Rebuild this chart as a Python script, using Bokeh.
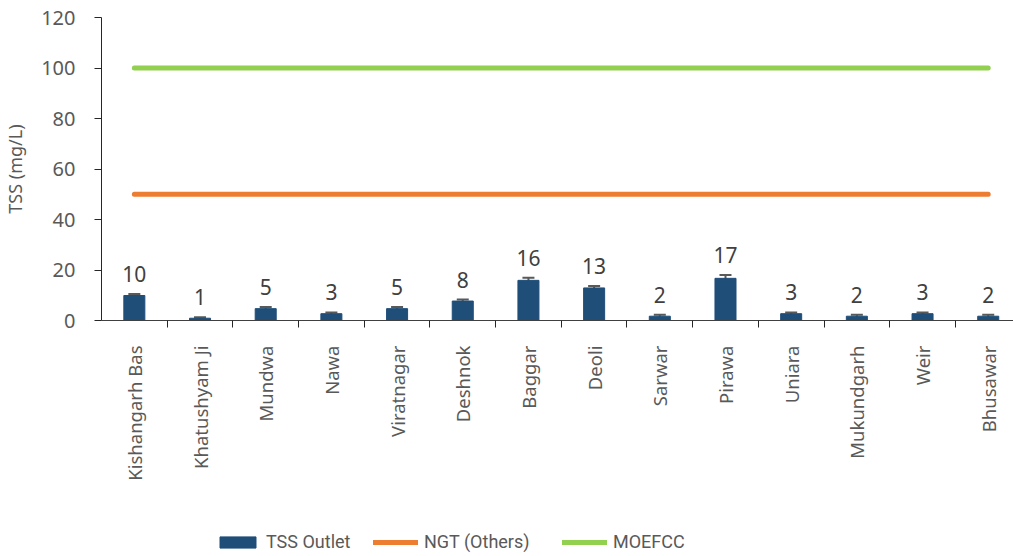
import numpy as np
from bokeh.plotting import figure
from bokeh.layouts import column
from bokeh.models import (Range1d, FixedTicker, Legend, LegendItem, ColumnDataSource,
                          Whisker, LabelSet)
from bokeh.embed import file_html
from bokeh.resources import INLINE
from bokeh.core.properties import value

# ---- data ----
categories = ["Kishangarh Bas", "Khatushyam Ji", "Mundwa", "Nawa", "Viratnagar",
              "Deshnok", "Baggar", "Deoli", "Sarwar", "Pirawa", "Uniara",
              "Mukundgarh", "Weir", "Bhusawar"]
tss_outlet = [9.9, 0.9, 4.7, 2.7, 4.7, 7.7, 15.9, 12.9, 1.7, 16.7, 2.7, 1.7, 2.7, 1.7]
tss_error = [0.6, 0.4, 0.6, 0.5, 0.6, 0.6, 1.0, 0.8, 0.6, 1.3, 0.5, 0.6, 0.5, 0.6]
tss_labels = ["10", "1", "5", "3", "5", "8", "16", "13", "2", "17", "3", "2", "3", "2"]
ngt_others = [50] * len(categories)
moefcc = [100] * len(categories)
y_ticks = [0, 20, 40, 60, 80, 100, 120]
series_names = ["TSS Outlet", "NGT (Others)", "MOEFCC"]

FONT = "Noto Sans"
GREY = "#595959"
BAR_COLOR = "#1F4E79"
NGT_COLOR = "#ED7D31"
MOE_COLOR = "#92D050"

x = [i + 0.5 for i in range(len(categories))]
src = ColumnDataSource(dict(
    x=x, top=tss_outlet,
    upper=[v + e for v, e in zip(tss_outlet, tss_error)],
    lower=[v - e for v, e in zip(tss_outlet, tss_error)],
    label=tss_labels,
    ngt=ngt_others, moe=moefcc,
))

p = figure(output_backend="svg", toolbar_location=None,
           frame_width=913, frame_height=303,
           x_range=Range1d(0, 13.9), y_range=Range1d(0, 120),
           min_border_left=100, min_border_top=17, min_border_right=0,
           min_border_bottom=204)
p.outline_line_color = None
p.xgrid.visible = False
p.ygrid.visible = False
p.background_fill_color = "white"
p.border_fill_color = "white"

p.vbar(x="x", top="top", width=0.32, source=src, fill_color=BAR_COLOR,
       line_color=BAR_COLOR)
w = Whisker(base="x", upper="upper", lower="lower", source=src,
            line_color=GREY, line_width=2)
for head in (w.upper_head, w.lower_head):
    head.size = 12
    head.line_color = GREY
    head.line_width = 2
p.add_layout(w)

p.line(x="x", y="ngt", source=src, line_color=NGT_COLOR, line_width=5, line_cap="round")
p.line(x="x", y="moe", source=src, line_color=MOE_COLOR, line_width=5, line_cap="round")

labels = LabelSet(x="x", y="upper", text="label", source=src, text_align="center",
                  text_baseline="bottom", y_offset=12, text_font=value(FONT),
                  text_font_size="21px", text_color="#404040")
p.add_layout(labels)

# y axis
p.yaxis.ticker = FixedTicker(ticks=y_ticks)
p.yaxis.minor_tick_line_color = None
p.yaxis.major_tick_out = 7
p.yaxis.major_tick_in = 0
p.yaxis.axis_line_color = "#262626"
p.yaxis.major_tick_line_color = "#262626"
p.yaxis.major_label_text_font = FONT
p.yaxis.major_label_text_font_size = "20px"
p.yaxis.major_label_text_color = GREY
p.yaxis.major_label_standoff = 19
p.yaxis.axis_label = "TSS (mg/L)"
p.yaxis.axis_label_text_font = FONT
p.yaxis.axis_label_text_font_size = "18px"
p.yaxis.axis_label_text_font_style = "normal"
p.yaxis.axis_label_text_color = GREY
p.yaxis.axis_label_standoff = 11

# x axis
p.xaxis.ticker = FixedTicker(ticks=x, minor_ticks=list(range(1, len(categories))))
p.xaxis.major_label_overrides = {xi: c for xi, c in zip(x, categories)}
p.xaxis.major_label_orientation = np.pi / 2
p.xaxis.major_tick_line_color = None
p.xaxis.minor_tick_out = 7
p.xaxis.minor_tick_in = 0
p.xaxis.minor_tick_line_color = "#262626"
p.xaxis.axis_line_color = "#404040"
p.xaxis.major_label_text_font = FONT
p.xaxis.major_label_text_font_size = "18.5px"
p.xaxis.major_label_text_color = GREY
p.xaxis.major_label_standoff = 18

# legend strip below the chart (its frame is aligned with the main frame, left edge at 100px)
lg = figure(output_backend="svg", toolbar_location=None, width=1013, height=32,
            x_range=Range1d(0, 1), y_range=Range1d(0, 1),
            x_axis_type=None, y_axis_type=None,
            min_border_left=0, min_border_right=0, min_border_top=0, min_border_bottom=0)
lg.grid.visible = False
lg.outline_line_color = None
dummy = ColumnDataSource(dict(x=[-10, -9], y=[-10, -10]))
r1 = lg.vbar(x="x", top="y", width=0.1, source=dummy, fill_color=BAR_COLOR, line_color=BAR_COLOR)
r2 = lg.line(x="x", y="y", source=dummy, line_color=NGT_COLOR, line_width=5, line_cap="round")
r3 = lg.line(x="x", y="y", source=dummy, line_color=MOE_COLOR, line_width=5, line_cap="round")
for name, r, xpos in zip(series_names, [r1, r2, r3], [114, 272, 461]):
    legend = Legend(items=[LegendItem(label=name, renderers=[r])],
                    orientation="horizontal", location=(xpos, 4))
    legend.glyph_width = 45
    legend.glyph_height = 14
    legend.label_standoff = 6
    legend.border_line_color = None
    legend.background_fill_alpha = 0
    legend.label_text_font = "Roboto"
    legend.label_text_font_size = "18px"
    legend.label_text_color = GREY
    legend.margin = 0
    legend.padding = 0
    lg.add_layout(legend, "center")

layout = column(p, lg, spacing=0)
open("out.html", "w").write(file_html(layout, INLINE))
